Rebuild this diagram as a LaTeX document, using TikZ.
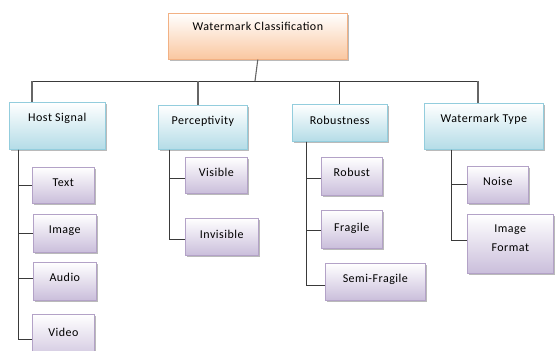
\documentclass[tikz,border=0pt]{standalone}
\usepackage{fontspec}
\setmainfont{Carlito}[LetterSpace=4]
\usetikzlibrary{shadows}

\definecolor{rootfill}{HTML}{FAC7A0}
\definecolor{rootline}{HTML}{F2B184}
\definecolor{catfill}{HTML}{B4DCE7}
\definecolor{catline}{HTML}{93CDDD}
\definecolor{leaffill}{HTML}{CABEDB}
\definecolor{leafline}{HTML}{B3A2C7}
\definecolor{wire}{HTML}{3A3A3A}

\tikzset{
  basebox/.style={draw, line width=0.6pt, anchor=north west, inner sep=0pt,
    align=center, font=\fontsize{12}{19}\selectfont,
    drop shadow={shadow xshift=1.6pt, shadow yshift=-1.6pt, fill=black!45, opacity=0.6}},
  rootbox/.style={basebox, draw=rootline, top color=white, bottom color=rootfill},
  catbox/.style={basebox, draw=catline, top color=white, bottom color=catfill},
  leafbox/.style={basebox, draw=leafline, top color=white, bottom color=leaffill},
  wire/.style={draw=wire, line width=0.8pt},
  topwire/.style={draw=black!60, line width=1.1pt},
}

% #1 name, #2 style, (#3,#4) top-left, #5 width, #6 height, #7 baseline offset, #8 text
\newcommand\chartbox[8]{%
  \node[#2, minimum width=#5pt, text height=#7pt, text depth=#6pt-#7pt] (#1) at (#3,#4) {#8};}

\begin{document}
\begin{tikzpicture}[x=1pt,y=-1pt]
  \useasboundingbox (0,0) rectangle (555,351);
  \clip (0,0) rectangle (555,351);

  % root
  \chartbox{wc}{rootbox}{168}{13}{179}{46}{17}{Watermark Classification}

  % categories
  \chartbox{hs}{catbox}{9}{102}{96}{47}{19}{Host Signal}
  \chartbox{pc}{catbox}{158}{105}{89}{44}{19}{Perceptivity}
  \chartbox{rb}{catbox}{292}{104}{95}{37}{20}{Robustness}
  \chartbox{wt}{catbox}{424}{103}{119}{46}{19}{Watermark Type}

  % host signal leaves
  \chartbox{tx}{leafbox}{32}{167}{62}{36}{19}{Text}
  \chartbox{im}{leafbox}{33}{214}{63}{38}{19}{Image}
  \chartbox{au}{leafbox}{33}{262}{63}{38}{19}{Audio}
  \chartbox{vd}{leafbox}{32}{314}{62}{50}{22}{Video}

  % perceptivity leaves
  \chartbox{vi}{leafbox}{185}{157}{62}{36}{19}{Visible}
  \chartbox{iv}{leafbox}{185}{218}{73}{37}{20}{Invisible}

  % robustness leaves
  \chartbox{ro}{leafbox}{321}{157}{61}{38}{19}{Robust}
  \chartbox{fr}{leafbox}{321}{210}{61}{38}{21}{Fragile}
  \chartbox{sf}{leafbox}{325}{263}{100}{37}{19}{Semi-Fragile}

  % watermark type leaves
  \chartbox{no}{leafbox}{467}{166}{61}{37}{19}{Noise}
  \chartbox{ifm}{leafbox}{467}{214}{86}{59}{37}{Image\\Format}

  % bus from root to categories
  \coordinate (bus) at (255,81);
  \coordinate (busL) at (32,81);
  \coordinate (busR) at (478,81);
  \draw[topwire] (wc.south) -- (bus);
  \draw[wire] (busL) -- (busR);
  \draw[topwire] (busL) -- (busL |- hs.north);
  \draw[topwire] (198,81) -- (198,105) coordinate (pctop);
  \draw[wire] (rb.north |- bus) -- (rb.north);
  \draw[topwire] (busR) -- (busR |- wt.north);

  % trunks to leaves
  \coordinate (hsT) at ([xshift=9pt]hs.south west);
  \draw[wire] (hsT) |- (tx.west);
  \draw[wire] (hsT) |- (im.west);
  \draw[wire] (hsT) |- ([yshift=3pt]au.west);
  \draw[wire] (hsT) |- (vd.west);

  \coordinate (pcT) at ([xshift=11pt]pc.south west);
  \draw[wire] (pcT) |- ([yshift=-3pt]vi.west);
  \draw[wire] (pcT) |- ([yshift=-2.5pt]iv.west);

  \coordinate (rbT) at ([xshift=14pt]rb.south west);
  \draw[wire] (rbT) |- ([yshift=-2pt]ro.west);
  \draw[wire] (rbT) |- ([yshift=-1pt]fr.west);
  \draw[wire] (rbT) |- ([yshift=-3.5pt]sf.west);

  \coordinate (wtT) at ([xshift=27pt]wt.south west);
  \draw[wire] (wtT) |- (no.west);
  \draw[wire] (wtT) |- ([yshift=3.5pt]ifm.west);
\end{tikzpicture}
\end{document}
